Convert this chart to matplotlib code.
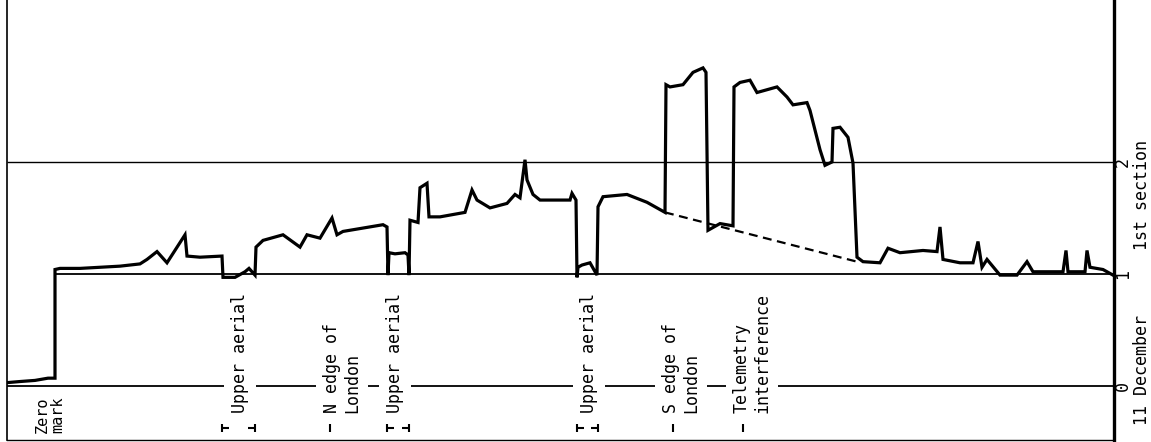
import numpy as np
import matplotlib.pyplot as plt

plt.rcParams['font.family'] = ['DejaVu Sans Mono']

# 记录曲线 (距离, 读数)
dist = [7, 20, 35, 48, 55, 55, 60, 80, 100, 120, 140, 147, 157, 167, 185, 187, 200, 222,
        223, 235, 245, 249, 255, 256, 263, 283, 300, 307, 320, 332, 337, 343, 383, 387,
        388, 389, 395, 405, 408, 409, 410, 418, 420, 427, 429, 440, 465, 472, 477, 490,
        507, 515, 520, 525, 527, 533, 540, 570, 572, 576, 577, 578, 582, 590, 597, 598,
        603, 627, 647, 655, 665, 666, 670, 683, 693, 703, 706, 708, 720, 733, 734, 740,
        750, 757, 765, 777, 787, 793, 807, 810, 820, 825, 832, 833, 840, 848, 853, 857,
        863, 880, 888, 900, 923, 937, 940, 943, 960, 973, 978, 982, 987, 1000, 1017, 1027,
        1033, 1063, 1066, 1068, 1085, 1087, 1090, 1103, 1113]
level = [0.03, 0.04, 0.05, 0.07, 0.07, 1.04, 1.05, 1.05, 1.06, 1.07, 1.09, 1.13, 1.20, 1.10,
         1.35, 1.16, 1.15, 1.16,
         0.97, 0.97, 1.02, 1.05, 0.99, 1.24, 1.30, 1.35, 1.24, 1.35, 1.32, 1.50, 1.35, 1.38,
         1.44, 1.42,
         0.99, 1.19, 1.18, 1.19, 1.17, 0.99, 1.48, 1.46, 1.77, 1.81, 1.51, 1.51, 1.55, 1.75,
         1.66, 1.59,
         1.63, 1.71, 1.68, 2.02, 1.84, 1.71, 1.66, 1.66, 1.72, 1.66, 0.97, 1.06, 1.08, 1.10,
         0.99, 1.60,
         1.69, 1.71, 1.64, 1.60, 1.55, 2.69, 2.67, 2.69, 2.80, 2.84, 2.80, 1.39, 1.45, 1.43,
         2.67, 2.71,
         2.73, 2.62, 2.64, 2.67, 2.58, 2.51, 2.53, 2.46, 2.11, 1.97, 2.00, 2.30, 2.31, 2.22,
         1.99, 1.15,
         1.11, 1.10, 1.23, 1.19, 1.21, 1.20, 1.42, 1.13, 1.10, 1.10, 1.29, 1.06, 1.13, 0.99,
         0.99, 1.11,
         1.02, 1.02, 1.21, 1.02, 1.02, 1.21, 1.06, 1.04, 0.99]

# 虚线基线
base_dist = [665, 857]
base_level = [1.55, 1.11]

# 事件标注
aerial_start = [222, 387, 577]
aerial_end = [255, 409, 598]
aerial_text_x = [240, 395, 589]
events = ['N edge of\nLondon', 'S edge of\nLondon', 'Telemetry\ninterference']
event_mark = [330, 673, 743]
event_text_x = [342, 681, 752]

ref_levels = [0, 1, 2]
tick_labels = ['0', '1', '2']

x_min, x_max = 7, 1114

fig = plt.figure(figsize=(11.51, 4.42), dpi=100)
ax = fig.add_axes([7 / 1151, 2 / 442, 1107 / 1151, 440 / 442])
ax.set_xlim(x_min, x_max)
ax.set_ylim(-0.482, 3.446)

# 参考线
ax.hlines(ref_levels[0], x_min, x_max, color='black', lw=1.3)
ax.hlines(ref_levels[1], dist[4], x_max, color='black', lw=1.3)
ax.hlines(ref_levels[2], x_min, x_max, color='black', lw=1.0)

ax.plot(dist, level, color='black', lw=2.3, solid_joinstyle='miter')
ax.plot(base_dist, base_level, color='black', lw=1.6, dashes=(4, 2.5))

# 坐标轴样式
ax.spines['top'].set_visible(False)
ax.spines['left'].set_linewidth(1.2)
ax.spines['bottom'].set_linewidth(1.0)
ax.spines['right'].set_linewidth(2.4)
ax.set_xticks([])
ax.set_yticks([])

box = dict(facecolor='white', edgecolor='none', pad=5)
txt = dict(rotation=90, rotation_mode='anchor', ha='left', va='center',
           fontsize=12, linespacing=1.2, bbox=box)

y_text = -0.24
y_mark = -0.375
tick_h = 0.035
stub = 7

for xs, xe, xt in zip(aerial_start, aerial_end, aerial_text_x):
    ax.text(xt, y_text, 'Upper aerial', **txt)
    ax.vlines([xs, xe], y_mark - tick_h, y_mark + tick_h, color='black', lw=1.5)
    ax.hlines(y_mark, xs, xs + stub, color='black', lw=1.5)
    ax.hlines(y_mark, xe - stub, xe, color='black', lw=1.5)

for label, xm, xt in zip(events, event_mark, event_text_x):
    ax.text(xt, y_text, label, **txt)
    ax.vlines(xm, y_mark - 0.04, y_mark + 0.04, color='black', lw=1.5)

ax.text(50, -0.42, 'Zero\nmark', rotation=90, rotation_mode='anchor', ha='left',
        va='center', fontsize=11, linespacing=1.1)

# 右侧刻度
for v, t in zip(ref_levels, tick_labels):
    ax.text(x_max + 9, v, t, rotation=90, rotation_mode='anchor', ha='center',
            va='center', fontsize=12, clip_on=False)
ax.text(x_max + 28, -0.35, '11 December', rotation=90, rotation_mode='anchor',
        ha='left', va='center', fontsize=12, clip_on=False)
ax.text(x_max + 28, 1.21, '1st section', rotation=90, rotation_mode='anchor',
        ha='left', va='center', fontsize=12, clip_on=False)

plt.savefig('out.png', dpi=100)
